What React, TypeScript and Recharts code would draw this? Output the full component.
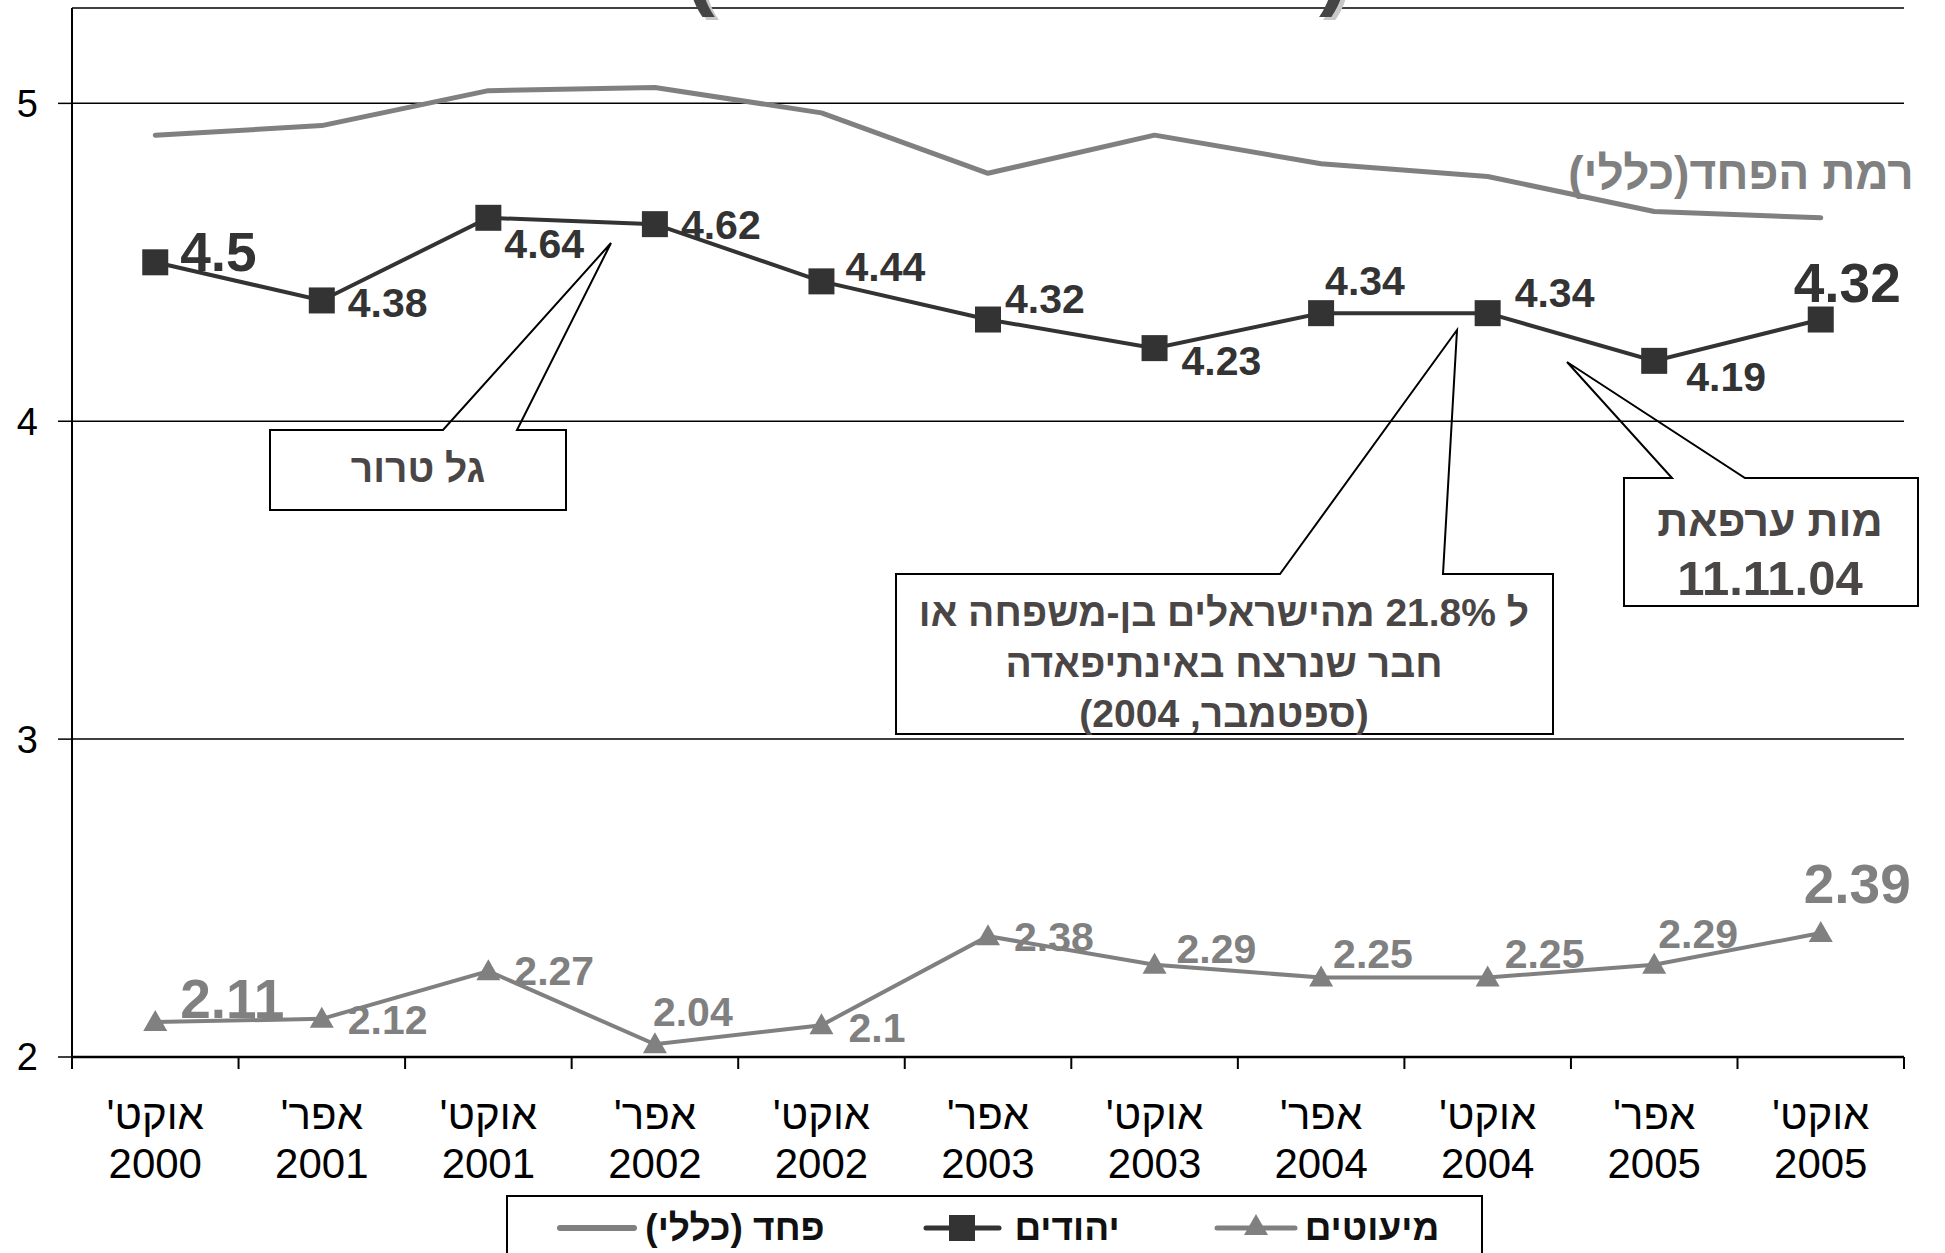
import React from "react";
import { LineChart, Line, XAxis, YAxis, CartesianGrid, LabelList } from "recharts";

const months = ["אוקט'", "אפר'", "אוקט'", "אפר'", "אוקט'", "אפר'", "אוקט'", "אפר'", "אוקט'", "אפר'", "אוקט'"];
const years = ["2000", "2001", "2001", "2002", "2002", "2003", "2003", "2004", "2004", "2005", "2005"];

// general fear level (no labels)
const generalFear = [4.9, 4.93, 5.04, 5.05, 4.97, 4.78, 4.9, 4.81, 4.77, 4.66, 4.64];
const jews = [4.5, 4.38, 4.64, 4.62, 4.44, 4.32, 4.23, 4.34, 4.34, 4.19, 4.32];
const minorities = [2.11, 2.12, 2.27, 2.04, 2.1, 2.38, 2.29, 2.25, 2.25, 2.29, 2.39];

const yTicks = [2, 3, 4, 5];

const data = months.map((m, i) => ({
  key: `${m} ${years[i]}`,
  general: generalFear[i],
  jews: jews[i],
  minorities: minorities[i],
}));

// label placement relative to each point: [dx to left edge, dy to middle]
const jewsLabelPos = [
  [25, -11], [26, 2], [16, 25], [26, 0], [24, -15], [17, -21],
  [27, 12], [4, -33], [27, -21], [32, 15], [-27, -37],
];
const minLabelPos = [
  [25, -24], [26, 0], [26, -1], [-2, -33], [27, 2], [26, 0],
  [22, -17], [12, -24], [17, -24], [4, -32], [-17, -50],
];

const FONT = "'Liberation Sans', Arial, 'DejaVu Sans', sans-serif";
const DARK = "#333333";
const GREY = "#808080";
const BOXTEXT = "#4a4646";
const HALF = 83.25;

function XTick(props: any) {
  const { x, y, index } = props;
  const last = index === months.length - 1;
  return (
    <g>
      <line x1={x - HALF} x2={x - HALF} y1={y} y2={y + 12} stroke="#000" strokeWidth={2} />
      {last && <line x1={x + HALF} x2={x + HALF} y1={y} y2={y + 12} stroke="#000" strokeWidth={2} />}
      <text x={x} y={y + 72} textAnchor="middle" direction="rtl" fontSize={42} fontFamily={FONT} fill="#000">
        {months[index]}
      </text>
      <text x={x} y={y + 121} textAnchor="middle" fontSize={42} fontFamily={FONT} fill="#000">
        {years[index]}
      </text>
    </g>
  );
}

function SquareDot(props: any) {
  const { cx, cy } = props;
  if (cx == null || cy == null) return null;
  return <rect x={cx - 13} y={cy - 13} width={26} height={26} fill={DARK} />;
}

function TriangleDot(props: any) {
  const { cx, cy } = props;
  if (cx == null || cy == null) return null;
  return <polygon points={`${cx},${cy - 12} ${cx - 12},${cy + 9} ${cx + 12},${cy + 9}`} fill={GREY} />;
}

const makeLabel = (pos: number[][], color: string) => (props: any) => {
  const { x, y, value, index } = props;
  const big = index === 0 || index === pos.length - 1;
  const fs = big ? 55 : 41;
  const [dx, dy] = pos[index];
  return (
    <text x={x + dx} y={y + dy + fs * 0.36} fontSize={fs} fontWeight="bold" fill={color} fontFamily={FONT}>
      {value}
    </text>
  );
};

function Callout({ box, base, tip }: { box: number[]; base: number[]; tip: number[] }) {
  const [x0, y0, x1, y1] = box;
  const pts = [
    [x0, y0], [base[0], y0], tip, [base[1], y0], [x1, y0], [x1, y1], [x0, y1],
  ];
  return (
    <g>
      <rect x={x0} y={y0} width={x1 - x0} height={y1 - y0} fill="#fff" />
      <polygon points={pts.map((p) => p.join(",")).join(" ")} fill="none" stroke="#000" strokeWidth={2} />
    </g>
  );
}

function Overlay() {
  return (
    <svg width={1945} height={1253} style={{ position: "absolute", left: 0, top: 0, pointerEvents: "none" }}>
      <defs>
        <filter id="titleShadow" x="-50%" y="-50%" width="200%" height="200%">
          <feDropShadow dx={4} dy={3} stdDeviation={0} floodColor="#c8c8c8" />
        </filter>
      </defs>
      {/* remains of the cropped title */}
      <text x={700} y={-2} textAnchor="middle" fill="#444" fontFamily={FONT} fontSize={90} fontWeight="bold" filter="url(#titleShadow)">
        (
      </text>
      <text x={1334} y={-2} textAnchor="middle" fill="#444" fontFamily={FONT} fontSize={90} fontWeight="bold" filter="url(#titleShadow)">
        )
      </text>

      <text x={1741} y={189} textAnchor="middle" direction="rtl" fontSize={46} fontWeight="bold" fill={GREY} fontFamily={FONT}>
        רמת הפחד(כללי)
      </text>

      <Callout box={[270, 430, 566, 510]} base={[443, 517]} tip={[611, 243]} />
      <text x={418} y={482} textAnchor="middle" direction="rtl" fontSize={39} fontWeight="bold" fill={BOXTEXT} fontFamily={FONT}>
        גל טרור
      </text>

      <Callout box={[896, 574, 1553, 734]} base={[1280, 1443]} tip={[1457, 330]} />
      <g textAnchor="middle" direction="rtl" fontSize={39} fontWeight="bold" fill={BOXTEXT} fontFamily={FONT}>
        <text x={1224} y={626}>ל 21.8% מהישראלים בן-משפחה או</text>
        <text x={1224} y={677}>חבר שנרצח באינתיפאדה</text>
        <text x={1224} y={727}>(ספטמבר, 2004)</text>
      </g>

      <Callout box={[1624, 478, 1918, 606]} base={[1672, 1745]} tip={[1567, 362]} />
      <text x={1770} y={536} textAnchor="middle" direction="rtl" fontSize={43} fontWeight="bold" fill={BOXTEXT} fontFamily={FONT}>
        מות ערפאת
      </text>
      <text x={1770} y={595} textAnchor="middle" fontSize={49} fontWeight="bold" fill={BOXTEXT} fontFamily={FONT}>
        11.11.04
      </text>

      {/* legend */}
      <rect x={507} y={1196} width={975} height={90} fill="#fff" stroke="#000" strokeWidth={2} />
      <line x1={560} x2={634} y1={1228} y2={1228} stroke={GREY} strokeWidth={6} strokeLinecap="round" />
      <line x1={926} x2={999} y1={1228} y2={1228} stroke={DARK} strokeWidth={5} strokeLinecap="round" />
      <SquareDot cx={962} cy={1228} />
      <line x1={1217} x2={1295} y1={1228} y2={1228} stroke={GREY} strokeWidth={5} strokeLinecap="round" />
      <TriangleDot cx={1256} cy={1226} />
      <g textAnchor="middle" direction="rtl" fontSize={37} fontWeight="bold" fill="#111" fontFamily={FONT}>
        <text x={735} y={1240}>פחד (כללי)</text>
        <text x={1067} y={1240}>יהודים</text>
        <text x={1372} y={1240}>מיעוטים</text>
      </g>
    </svg>
  );
}

export default function App() {
  return (
    <div style={{ position: "absolute", left: 0, top: 0, width: 1945, height: 1253, overflow: "hidden", background: "#fff" }}>
      <LineChart width={1945} height={1253} data={data} margin={{ top: 8, right: 41, bottom: 0, left: 0 }}>
        <CartesianGrid vertical={false} stroke="#000" strokeWidth={1.5} />
        <XAxis
          dataKey="key"
          interval={0}
          height={196}
          padding={{ left: HALF, right: HALF }}
          tickLine={false}
          tickSize={0}
          tickMargin={0}
          axisLine={{ stroke: "#000", strokeWidth: 2.5 }}
          tick={<XTick />}
        />
        <YAxis
          type="number"
          domain={[2, 5.3]}
          ticks={yTicks}
          allowDataOverflow
          width={72}
          tickSize={14}
          tickMargin={20}
          axisLine={{ stroke: "#000", strokeWidth: 2 }}
          tickLine={{ stroke: "#000", strokeWidth: 1.5 }}
          tick={{ fontSize: 38, fill: "#000", fontFamily: FONT }}
        />
        <Line
          type="linear"
          dataKey="general"
          stroke={GREY}
          strokeWidth={5}
          strokeLinecap="round"
          strokeLinejoin="round"
          dot={false}
          isAnimationActive={false}
        />
        <Line
          type="linear"
          dataKey="jews"
          stroke={DARK}
          strokeWidth={4}
          dot={<SquareDot />}
          activeDot={false}
          isAnimationActive={false}
        >
          <LabelList dataKey="jews" content={makeLabel(jewsLabelPos, DARK)} />
        </Line>
        <Line
          type="linear"
          dataKey="minorities"
          stroke={GREY}
          strokeWidth={4}
          dot={<TriangleDot />}
          activeDot={false}
          isAnimationActive={false}
        >
          <LabelList dataKey="minorities" content={makeLabel(minLabelPos, GREY)} />
        </Line>
      </LineChart>
      <Overlay />
    </div>
  );
}
